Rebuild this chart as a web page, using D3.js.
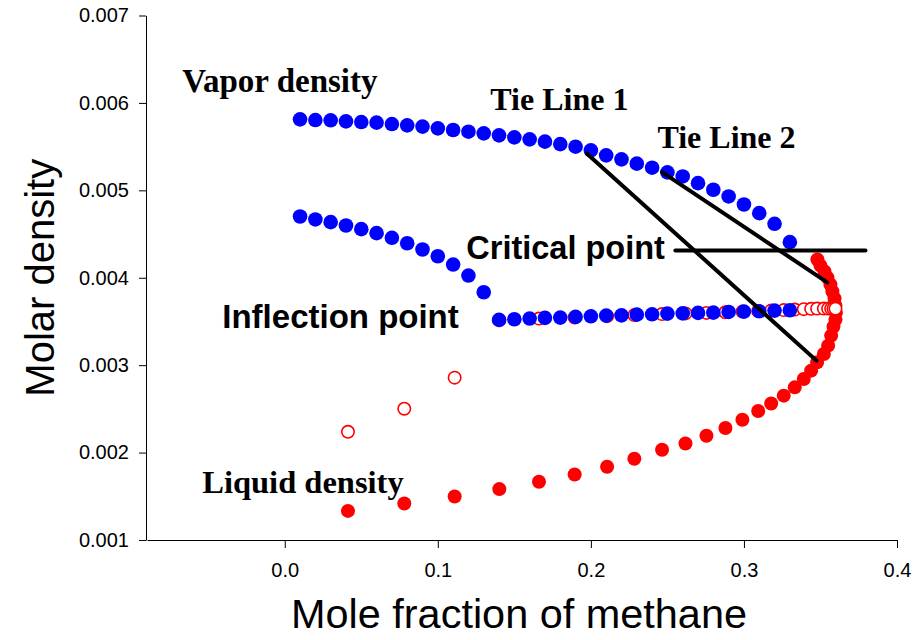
<!DOCTYPE html>
<html>
<head>
<meta charset="utf-8">
<script src="https://cdn.jsdelivr.net/npm/d3@7"></script>
<style>
  html, body { margin: 0; padding: 0; background: #fff; }
  svg { display: block; }
  .axis text { font-family: "Liberation Sans", Arial, sans-serif; font-size: 20px; fill: #000; }
  .axis path, .axis line { stroke: #000; stroke-width: 1; }
</style>
</head>
<body>
<svg id="chart" width="914" height="640"></svg>
<script>
// Vapor phase (stable branch), mole fraction of methane vs molar density
const vaporX = [0.01, 0.02, 0.03, 0.04, 0.05, 0.06, 0.07, 0.08, 0.09, 0.10,
                0.11, 0.12, 0.13, 0.14, 0.15, 0.16, 0.17, 0.18, 0.19, 0.20,
                0.21, 0.22, 0.23, 0.24, 0.25, 0.26, 0.27, 0.28, 0.29, 0.30,
                0.31, 0.32, 0.33];
const vaporY = [0.005812, 0.005804, 0.005801, 0.005789, 0.005781, 0.005774, 0.005758, 0.005743, 0.005729, 0.005709,
                0.005690, 0.005671, 0.005652, 0.005629, 0.005606, 0.005583, 0.005557, 0.005529, 0.005499, 0.005457,
                0.005400, 0.005354, 0.005305, 0.005259, 0.005205, 0.005159, 0.005082, 0.005007, 0.004930, 0.004838,
                0.004739, 0.004617, 0.004407];

// Vapor-like second root (drops through the inflection point)
const vaporMetaX = [0.01, 0.02, 0.03, 0.04, 0.05, 0.06, 0.07, 0.08, 0.09, 0.10,
                    0.11, 0.12, 0.13, 0.14, 0.15, 0.16, 0.17, 0.18, 0.19, 0.20,
                    0.21, 0.22, 0.23, 0.24, 0.25, 0.26, 0.27, 0.28, 0.29, 0.30,
                    0.31, 0.32, 0.33];
const vaporMetaY = [0.004701, 0.004667, 0.004636, 0.004598, 0.004556, 0.004510, 0.004457, 0.004395, 0.004323, 0.004246,
                    0.004151, 0.004025, 0.003834, 0.003518, 0.003525, 0.003533, 0.003541, 0.003544, 0.003552, 0.003559,
                    0.003567, 0.003570, 0.003578, 0.003582, 0.003590, 0.003593, 0.003598, 0.003601, 0.003609, 0.003613,
                    0.003616, 0.003624, 0.003628];

// Liquid phase (stable branch), up to the critical point
const liquidX = [0.0413, 0.0781, 0.1110, 0.1402, 0.1661, 0.1894, 0.2106, 0.2284, 0.2465, 0.2618,
                 0.2755, 0.2879, 0.2990, 0.3093, 0.3178, 0.3260, 0.3332, 0.3391, 0.3439, 0.3478,
                 0.3522, 0.3550, 0.3570, 0.3585, 0.3598, 0.3601, 0.3598, 0.3592, 0.3578, 0.3565,
                 0.3546, 0.3526, 0.3500, 0.3480];
const liquidY = [0.001333, 0.001417, 0.001497, 0.001582, 0.001666, 0.001749, 0.001838, 0.001929, 0.002032, 0.002104,
                 0.002192, 0.002281, 0.002376, 0.002475, 0.002562, 0.002651, 0.002746, 0.002842, 0.002937, 0.003032,
                 0.003128, 0.003223, 0.003338, 0.003441, 0.003521, 0.003601, 0.003681, 0.003762, 0.003842, 0.003922,
                 0.004002, 0.004071, 0.004139, 0.004208];

// Liquid-like second root (open circles)
const liquidMetaX = [0.0413, 0.0781, 0.1110, 0.1402, 0.1661, 0.1894, 0.2106, 0.2284, 0.2465, 0.2618,
                     0.2755, 0.2879, 0.2990, 0.3093, 0.3178, 0.3260, 0.3332, 0.3391, 0.3439, 0.3478,
                     0.3522, 0.3550, 0.3570, 0.3585, 0.3598];
const liquidMetaY = [0.002238, 0.002502, 0.002857, 0.003515, 0.003533, 0.003546, 0.003561, 0.003573, 0.003584, 0.003592,
                     0.003598, 0.003605, 0.003613, 0.003619, 0.003624, 0.003630, 0.003636, 0.003641, 0.003644, 0.003647,
                     0.003647, 0.003647, 0.003647, 0.003647, 0.003647];

// Tie lines joining coexisting vapor / liquid states, and the critical-point pointer
const tieLine1 = [[0.1975, 0.005419], [0.3474, 0.003052]];
const tieLine2 = [[0.2465, 0.005208], [0.3544, 0.003948]];
const criticalPointer = [[0.2552, 0.004312], [0.3794, 0.004312]];

// Axis ticks
const xTicks = [0.0, 0.1, 0.2, 0.3, 0.4];
const yTicks = [0.001, 0.002, 0.003, 0.004, 0.005, 0.006, 0.007];

const svg = d3.select("#chart");

const x = d3.scaleLinear().domain([-0.09, 0.4]).range([147, 897]);
const y = d3.scaleLinear().domain([0.001, 0.007]).range([540, 15.5]);

// Axes
svg.append("g")
  .attr("class", "axis")
  .attr("transform", `translate(0,${y(0.001)})`)
  .call(d3.axisBottom(x).tickValues(xTicks).tickFormat(d3.format(".1f"))
        .tickSize(8).tickSizeOuter(0).tickPadding(15));

svg.append("g")
  .attr("class", "axis")
  .attr("transform", `translate(${x(-0.09) - 1},0)`)
  .call(d3.axisLeft(y).tickValues(yTicks).tickFormat(d3.format(".3f"))
        .tickSize(7).tickSizeOuter(0).tickPadding(10));

// Axis titles
svg.append("text")
  .attr("x", (x.range()[0] + x.range()[1]) / 2 - 3)
  .attr("y", 628)
  .attr("text-anchor", "middle")
  .attr("textLength", 456)
  .attr("lengthAdjust", "spacingAndGlyphs")
  .style("font-family", "'Liberation Sans', Arial, sans-serif")
  .style("font-size", "41px")
  .text("Mole fraction of methane");

svg.append("text")
  .attr("transform", `translate(54,${(y.range()[0] + y.range()[1]) / 2}) rotate(-90)`)
  .attr("text-anchor", "middle")
  .style("font-family", "'Liberation Sans', Arial, sans-serif")
  .style("font-size", "40px")
  .text("Molar density");

const pts = (xs, ys) => xs.map((d, i) => ({ x: d, y: ys[i] }));
const R = 7;

// Stable liquid branch (filled red)
svg.append("g").selectAll("circle")
  .data(pts(liquidX, liquidY)).join("circle")
  .attr("cx", d => x(d.x)).attr("cy", d => y(d.y)).attr("r", R)
  .attr("fill", "#ff0000");

// Liquid-like root (open red)
svg.append("g").selectAll("circle")
  .data(pts(liquidMetaX, liquidMetaY)).join("circle")
  .attr("cx", d => x(d.x)).attr("cy", d => y(d.y)).attr("r", R - 0.8)
  .attr("fill", "#fff").attr("stroke", "#ff0000").attr("stroke-width", 1.6);

// Vapor branches (filled blue)
svg.append("g").selectAll("circle")
  .data(pts(vaporX, vaporY).concat(pts(vaporMetaX, vaporMetaY))).join("circle")
  .attr("cx", d => x(d.x)).attr("cy", d => y(d.y)).attr("r", R + 0.3)
  .attr("fill", "#0000ff");

// Tie lines and pointer
const line = d3.line().x(d => x(d[0])).y(d => y(d[1]));
[tieLine1, tieLine2, criticalPointer].forEach(seg => {
  svg.append("path")
    .attr("d", line(seg))
    .attr("fill", "none")
    .attr("stroke", "#000")
    .attr("stroke-width", 4)
    .attr("stroke-linecap", "round");
});

// Annotations
const serif = "'Liberation Serif', 'Times New Roman', serif";
const sans = "'Liberation Sans', Arial, sans-serif";
const notes = [
  { text: "Vapor density",    x: -0.067,  y: 0.006121, font: serif, size: 33 },
  { text: "Tie Line 1",       x: 0.1343,  y: 0.005915, font: serif, size: 32 },
  { text: "Tie Line 2",       x: 0.2435,  y: 0.005480, font: serif, size: 32 },
  { text: "Critical point",   x: 0.1186,  y: 0.004209, font: sans,  size: 32.5 },
  { text: "Inflection point", x: -0.0408, y: 0.003430, font: sans,  size: 33 },
  { text: "Liquid density",   x: -0.0539, y: 0.001539, font: serif, size: 32.5 }
];
svg.append("g").selectAll("text")
  .data(notes).join("text")
  .attr("x", d => x(d.x)).attr("y", d => y(d.y))
  .style("font-family", d => d.font)
  .style("font-weight", "bold")
  .style("font-size", d => d.size + "px")
  .text(d => d.text);
</script>
</body>
</html>
